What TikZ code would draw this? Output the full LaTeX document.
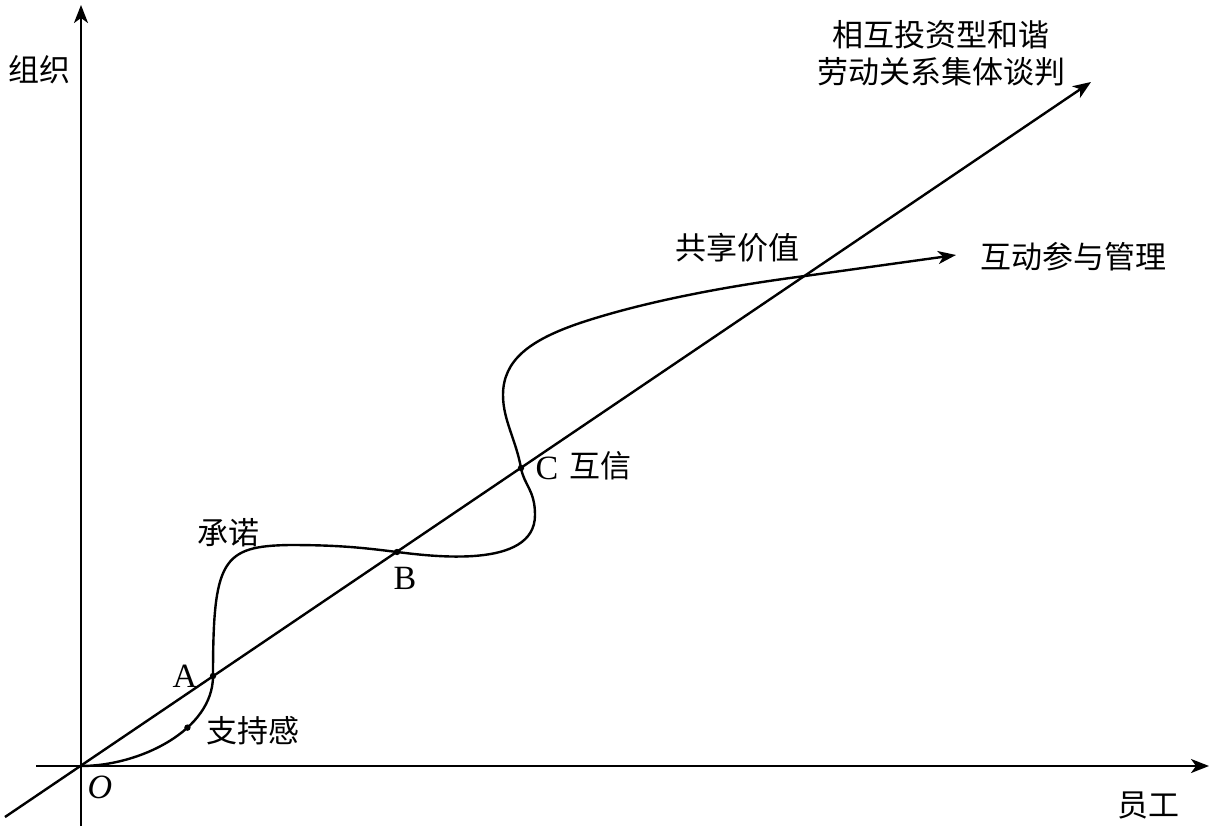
\documentclass[tikz,border=0pt]{standalone}
\usepackage{fontspec}
\setmainfont{Liberation Serif}
\newfontfamily\cjk{Noto Sans CJK SC}
\usetikzlibrary{arrows.meta}

\begin{document}
\begin{tikzpicture}[x=0.5pt,y=-0.5pt]
  \tikzset{AxisStyle/.style = {
    draw          = black,
    line width    = 1.2pt,
    -{Stealth[length=9pt,width=7pt,inset=2.5pt]}
    }
  }
  \tikzset{CurveStyle/.style = {
    draw          = black,
    line width    = 1.2pt,
    -{Stealth[length=9pt,width=6.5pt,inset=2.5pt]}
    }
  }
  \tikzset{LabelStyle/.style = {
    text          = black,
    inner sep     = 1pt,
    font          = \cjk\fontsize{15.5pt}{18.5pt}\selectfont
    }
  }
  \tikzset{LetterStyle/.style = {
    text          = black,
    inner sep     = 1pt,
    font          = \fontsize{17pt}{20pt}\selectfont
    }
  }
  \tikzset{DotStyle/.style = {
    fill          = black
    }
  }
  \useasboundingbox (0,0) rectangle (1213,834);

	\coordinate (O) at (81,766);
	\coordinate (X0) at (36,766);
	\coordinate (X1) at (1209,766);
	\coordinate (Y0) at (81,826);
	\coordinate (Y1) at (81,5);
	\coordinate (L0) at (5,817);
	\coordinate (L1) at (1091,82);
	\coordinate (A) at (213,676);
	\coordinate (B) at (397,552);
	\coordinate (C) at (521,468);
	\coordinate (D) at (805,276);
	\coordinate (E) at (956,255);
	\draw[AxisStyle] (X0) -- (X1);
	\draw[AxisStyle] (Y0) -- (Y1);
	\draw[AxisStyle] (L0) -- (L1);
	\draw[CurveStyle] (O) .. controls (140,766) and (213,730) .. coordinate[pos=0.63] (S) (A)
	  .. controls (213,560) and (222,546) .. (290,545)
	  .. controls (340,545) and (365,548) .. (B)
	  .. controls (430,556) and (535,570) .. (535,515)
	  .. controls (535,490) and (524,485) .. (C)
	  .. controls (516,440) and (503,420) .. (503,395)
	  .. controls (503,360) and (530,340) .. (580,323)
	  .. controls (640,303) and (720,287) .. (D)
	  -- (E);
	\fill[DotStyle] (A) circle[radius=1.6pt];
	\fill[DotStyle] (B) circle[radius=1.6pt];
	\fill[DotStyle] (C) circle[radius=1.6pt];
	\fill[DotStyle] (S) circle[radius=1.6pt];
	\node[LabelStyle](Org) at (40,70) {组织};
	\node[LabelStyle](Emp) at (1148,805) {员工};
	\node[LetterStyle](OLab) at (100,787) {\textit{O}};
	\node[LetterStyle](ALab) at (185,676) {A};
	\node[LetterStyle](BLab) at (405,578) {B};
	\node[LetterStyle](CLab) at (547,468) {C};
	\node[LabelStyle](Trust) at (600,466) {互信};
	\node[LabelStyle](Commit) at (228,533) {承诺};
	\node[LabelStyle](Support) at (253,731) {支持感};
	\node[LabelStyle](Shared) at (737,248) {共享价值};
	\node[LabelStyle](Interact) at (1073,257) {互动参与管理};
	\node[LabelStyle, align=center](Top) at (941,53) {相互投资型和谐\\劳动关系集体谈判};

  \end{tikzpicture}
\end{document}
